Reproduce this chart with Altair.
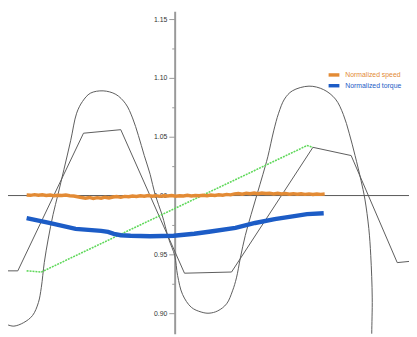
import altair as alt
import pandas as pd

# ---- data ----
sine_t = [0, 6, 16, 25, 31, 34, 37, 41, 46, 51, 57, 64, 70, 76, 84, 97, 110, 120, 127, 133,
          139, 145, 150, 157, 164, 170, 173, 178, 187, 197, 205, 214, 223, 229, 233, 237,
          242, 248, 254, 260, 265, 271, 276, 282, 290, 307, 322, 334, 342, 348, 354, 360,
          364, 368, 370, 371.5, 371, 371]
sine_v = [0.890, 0.889, 0.892, 0.898, 0.909, 0.922, 0.943, 0.963, 0.984, 1.001, 1.022,
          1.047, 1.070, 1.080, 1.087, 1.089, 1.086, 1.078, 1.066, 1.051, 1.034, 1.018,
          1.001, 0.984, 0.963, 0.949, 0.932, 0.916, 0.905, 0.901, 0.900, 0.902, 0.908,
          0.919, 0.930, 0.947, 0.966, 0.984, 1.001, 1.018, 1.033, 1.055, 1.070, 1.082,
          1.089, 1.093, 1.090, 1.082, 1.069, 1.053, 1.034, 1.013, 0.997, 0.972, 0.949,
          0.913, 0.883, 0.872]

ramp_t = [0, 10, 77, 115, 180, 228, 311, 350, 397, 409]
ramp_v = [0.936, 0.936, 1.053, 1.056, 0.934, 0.935, 1.041, 1.034, 0.943, 0.944]

ref_t = [19, 34, 305, 311]
ref_v = [0.936, 0.935, 1.0425, 1.041]

speed_t = list(range(19, 324, 4))
speed_v = [1.0005, 1.0002, 1.0008, 1.0003, 1.0006, 1.0001, 1.0004, 0.9998, 1.0003, 1.0000,
           1.0004, 0.9999, 0.9996, 0.9990, 0.9983, 0.9978, 0.9984, 0.9975, 0.9982, 0.9977,
           0.9986, 0.9979, 0.9988, 0.9992, 0.9985, 0.9993, 0.9990, 0.9996, 0.9992, 0.9998,
           0.9994, 1.0000, 0.9995, 0.9999, 0.9993, 0.9998, 0.9996, 1.0001, 0.9995, 0.9999,
           0.9996, 1.0002, 0.9997, 1.0001, 0.9998, 1.0003, 0.9999, 1.0005, 1.0001, 1.0006,
           1.0003, 1.0010, 1.0006, 1.0014, 1.0018, 1.0012, 1.0020, 1.0016, 1.0022, 1.0015,
           1.0021, 1.0017, 1.0020, 1.0014, 1.0019, 1.0013, 1.0018, 1.0012, 1.0016, 1.0011,
           1.0015, 1.0010, 1.0014, 1.0009, 1.0013, 1.0010, 1.0013]

torque_t = [19, 42, 69, 95, 102, 108, 115, 125, 145, 169, 190, 205, 232, 252, 272, 292, 305, 322]
torque_v = [0.9808, 0.9767, 0.9717, 0.9700, 0.9692, 0.9675, 0.9663, 0.9658, 0.9654, 0.9658,
            0.9675, 0.9692, 0.9725, 0.9767, 0.9800, 0.9825, 0.9842, 0.9850]

major_ticks = [0.90, 0.95, 1.00, 1.05, 1.10, 1.15]
minor_ticks = [0.875, 0.925, 0.975, 1.025, 1.075, 1.125]
series_names = ["Normalized speed", "Normalized torque"]
series_colors = ["#e38b35", "#1c5cc6"]

# ---- frames ----
sine_df = pd.DataFrame({"t": sine_t, "v": sine_v, "i": range(len(sine_t))})
ramp_df = pd.DataFrame({"t": ramp_t, "v": ramp_v})
ref_df = pd.DataFrame({"t": ref_t, "v": ref_v})
speed_df = pd.DataFrame({"t": speed_t, "v": speed_v, "s": series_names[0]})
torque_df = pd.DataFrame({"t": torque_t, "v": torque_v, "s": series_names[1]})
zero_df = pd.DataFrame({"v": [1.0]})

xs = alt.Scale(domain=[0, 409], nice=False, zero=False)
ys = alt.Scale(domain=[0.8825, 1.1567], nice=False, zero=False)
X = alt.X("t:Q", scale=xs, axis=None)

major_axis = alt.Axis(orient="left", offset=-170, values=major_ticks, format=".2f",
                      tickSize=6, labelPadding=2, labelFont="Liberation Sans",
                      labelFontSize=7, labelColor="#333333", domainColor="#999999",
                      domainWidth=2, tickColor="#999999", tickWidth=1, grid=False,
                      title=None, labelFlush=False, labelOverlap=False)
minor_axis = alt.Axis(orient="left", offset=-170, values=minor_ticks, labels=False,
                      tickSize=3, domain=False, tickColor="#999999", tickWidth=1,
                      grid=False, title=None)

sine = alt.Chart(sine_df).mark_line(color="#5a5a5a", strokeWidth=1,
                                    interpolate="catmull-rom", clip=True).encode(
    x=X, y=alt.Y("v:Q", scale=ys, axis=major_axis), order="i:Q")

ramp = alt.Chart(ramp_df).mark_line(color="#5a5a5a", strokeWidth=1, clip=True).encode(
    x=X, y=alt.Y("v:Q", scale=ys, axis=minor_axis))

zero = alt.Chart(zero_df).mark_rule(color="#555555", strokeWidth=1).encode(
    y=alt.Y("v:Q", scale=ys, axis=None))

ref = alt.Chart(ref_df).mark_line(color="#5fd85a", strokeWidth=1.6,
                                  strokeDash=[2, 1]).encode(
    x=X, y=alt.Y("v:Q", scale=ys, axis=None))

color = alt.Color("s:N", scale=alt.Scale(domain=series_names, range=series_colors),
                  legend=None)

speed = alt.Chart(speed_df).mark_line(strokeWidth=3.5).encode(
    x=X, y=alt.Y("v:Q", scale=ys, axis=None), color=color)

torque = alt.Chart(torque_df).mark_line(strokeWidth=4.5).encode(
    x=X, y=alt.Y("v:Q", scale=ys, axis=None), color=color)

# hand-built legend (top right)
legend_layers = []
for i, (name, col) in enumerate(zip(series_names, series_colors)):
    ldf = pd.DataFrame({"s": [name]})
    row_y = 65 + 11 * i
    legend_layers.append(alt.Chart(ldf).mark_rule(color=col, strokeWidth=3.5).encode(
        x=alt.value(327), x2=alt.value(338), y=alt.value(row_y)))
    legend_layers.append(alt.Chart(ldf).mark_text(
        align="left", baseline="middle", font="Liberation Sans", fontSize=7,
        color=col).encode(x=alt.value(344), y=alt.value(row_y), text="s:N"))

chart = alt.layer(sine, ramp, zero, ref, speed, torque, *legend_layers).resolve_axis(
    y="independent").properties(
    width=409, height=329, padding=0, autosize=alt.AutoSizeParams(type="none")
).configure(background="white", view=alt.ViewConfig(stroke=None))

chart.save("out.html", embed_options={"renderer": "svg", "actions": False})
